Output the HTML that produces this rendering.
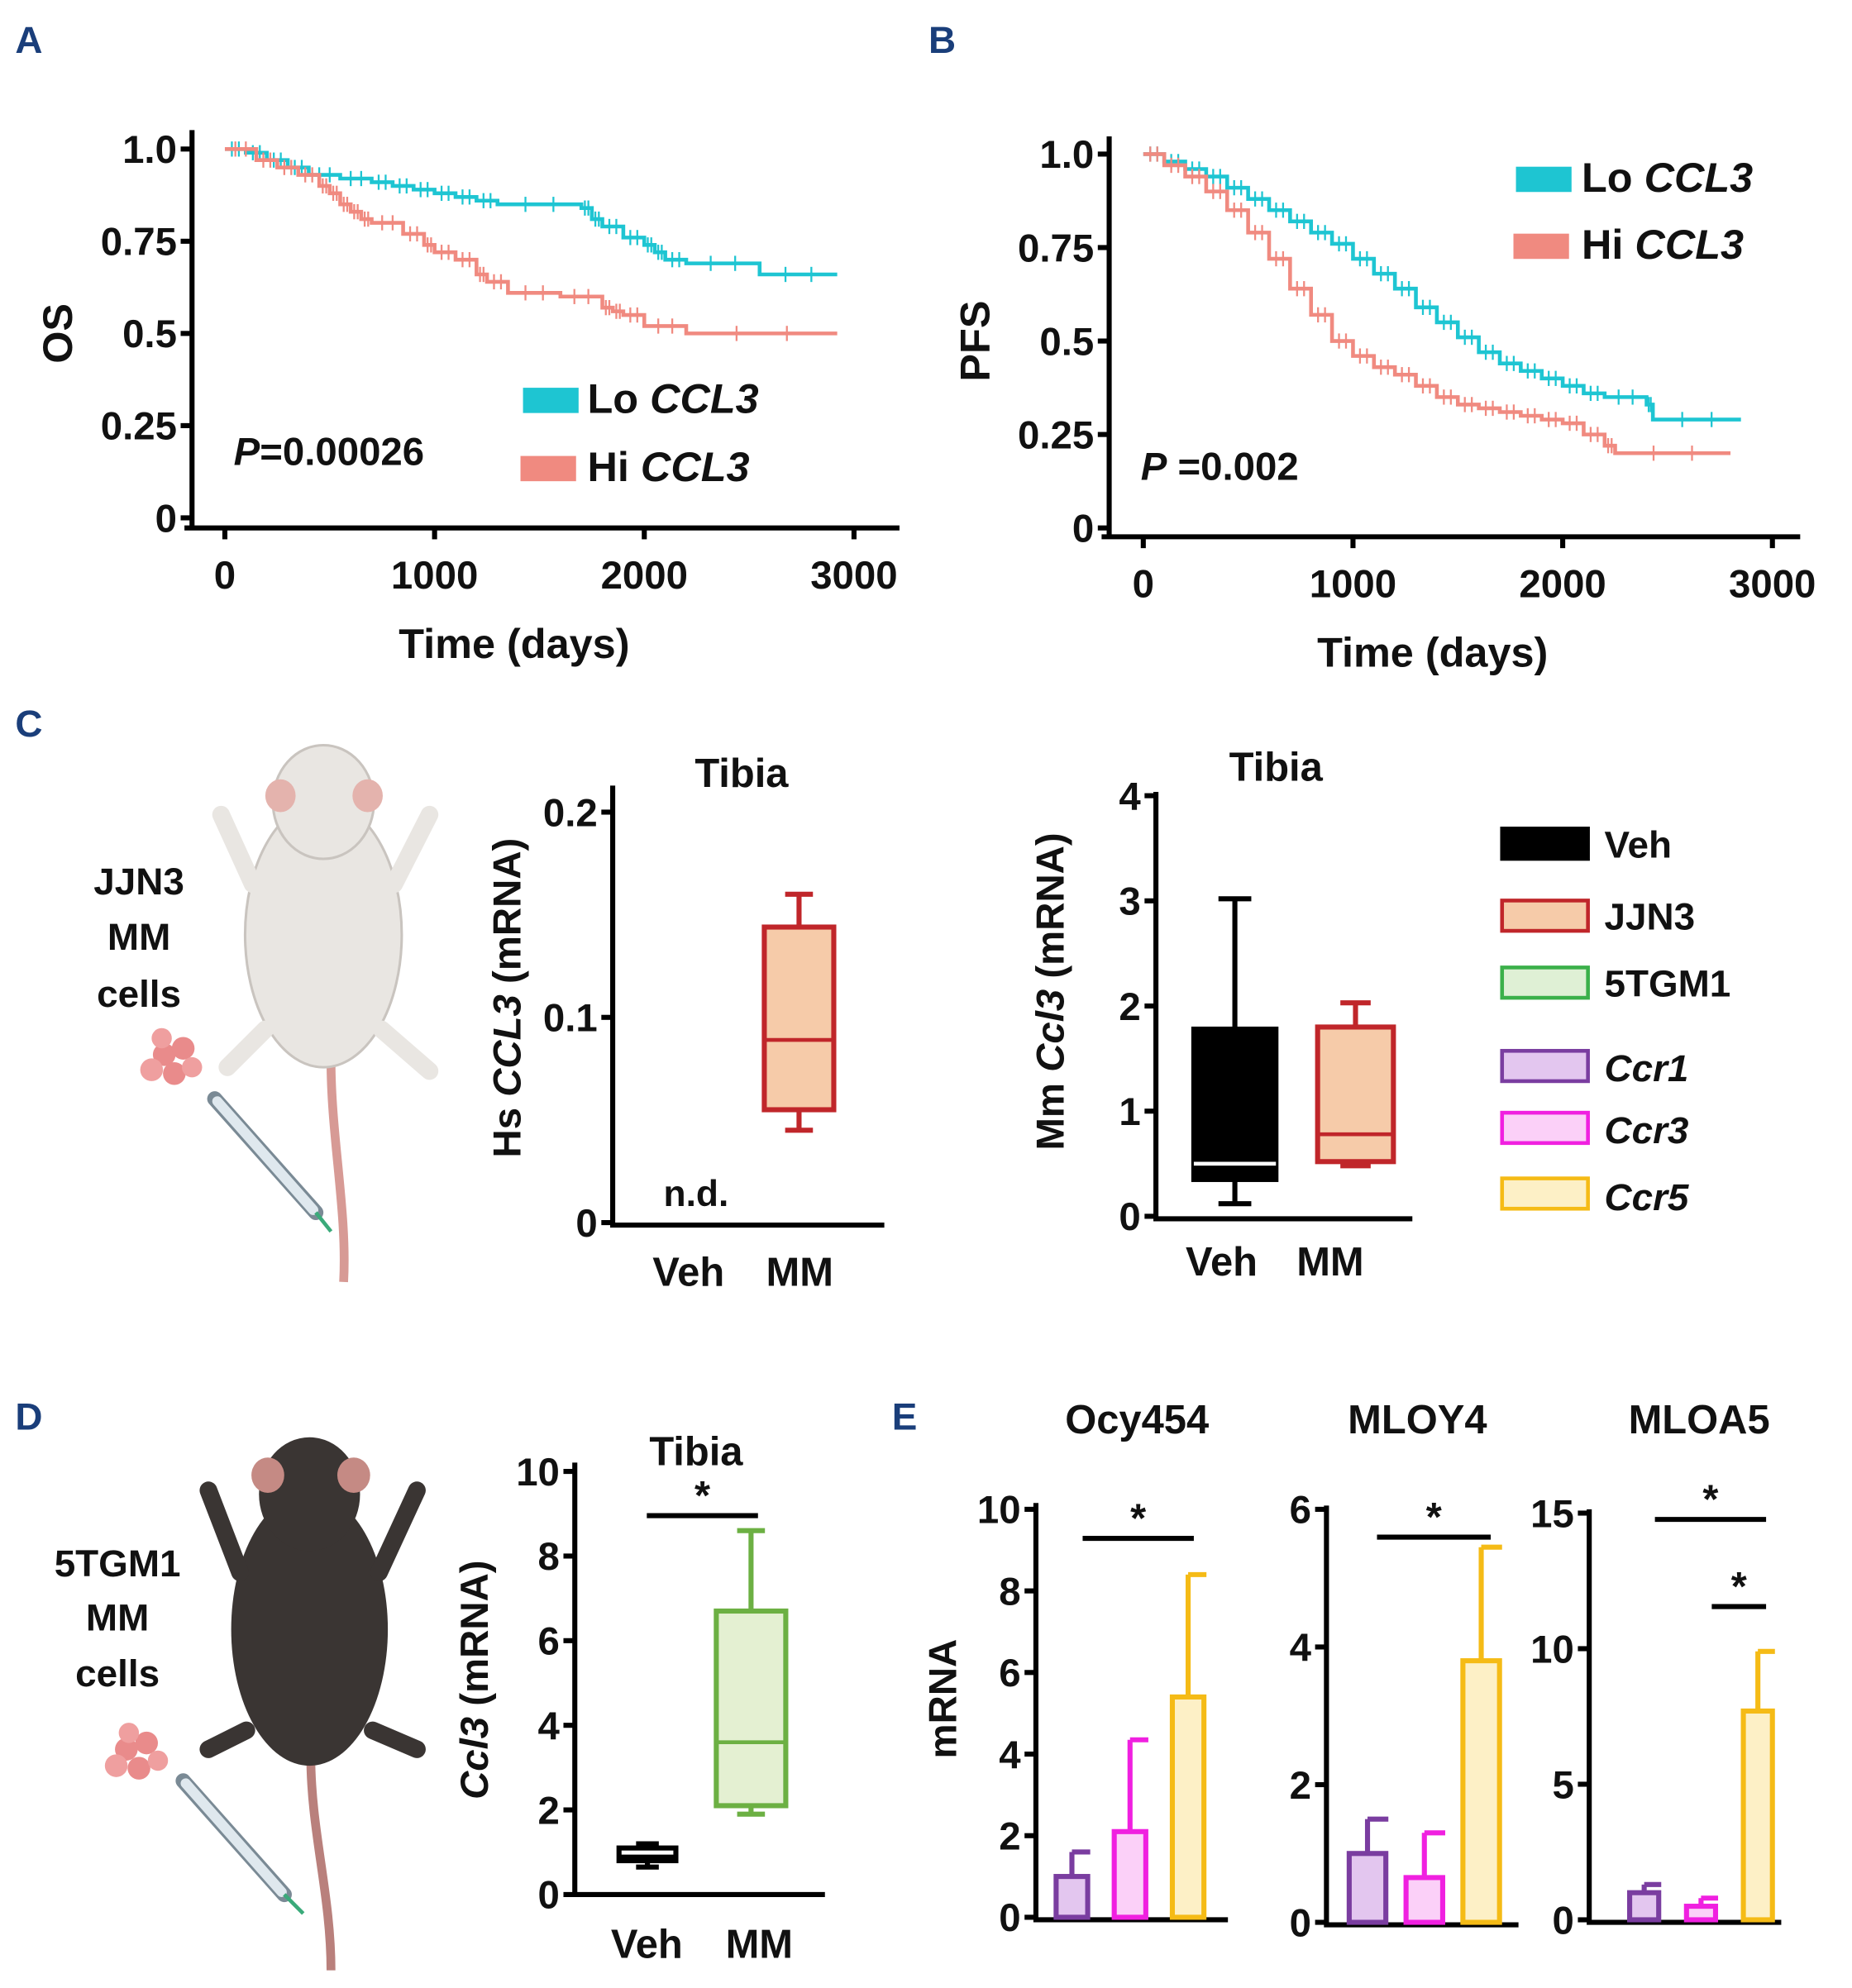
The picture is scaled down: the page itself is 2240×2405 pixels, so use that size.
<!DOCTYPE html>
<html><head><meta charset="utf-8">
<style>
html,body{margin:0;padding:0;background:#fff;}
svg{display:block;}
text{font-family:"Liberation Sans",Arial,sans-serif;font-weight:bold;fill:#111;}
</style></head>
<body>
<svg id="fig" width="2240" height="2405" viewBox="0 0 1466 1574" xmlns="http://www.w3.org/2000/svg">
<g id="letters" fill="#1a3e7a">
<text x="12" y="42" font-size="30" style="fill:#1a3e7a">A</text>
<text x="735" y="42" font-size="30" style="fill:#1a3e7a">B</text>
<text x="12" y="583" font-size="30" style="fill:#1a3e7a">C</text>
<text x="12" y="1132" font-size="30" style="fill:#1a3e7a">D</text>
<text x="706" y="1132" font-size="30" style="fill:#1a3e7a">E</text>
</g>

<g>
<path d="M262 840 C262 900 275 960 272 1015" stroke="#d79a95" stroke-width="7" fill="none"/>
<ellipse cx="256" cy="740" rx="62" ry="105" fill="#e9e6e2" stroke="#c9c4bf" stroke-width="2"/>
<ellipse cx="256" cy="635" rx="40" ry="45" fill="#e9e6e2" stroke="#c9c4bf" stroke-width="2"/>
<ellipse cx="222" cy="630" rx="12" ry="13" fill="#e4b3ad"/>
<ellipse cx="291" cy="630" rx="12" ry="13" fill="#e4b3ad"/>
<path d="M200 700 L175 645 M312 700 L340 645 M210 815 L180 845 M302 815 L340 848" stroke="#e9e6e2" stroke-width="14" stroke-linecap="round"/>
<circle cx="130" cy="835" r="9" fill="#e98b8b"/><circle cx="145" cy="830" r="9" fill="#e98b8b"/><circle cx="120" cy="847" r="9" fill="#ef9f9f"/><circle cx="138" cy="850" r="9" fill="#e98b8b"/><circle cx="152" cy="845" r="8" fill="#ef9f9f"/><circle cx="128" cy="822" r="8" fill="#ef9f9f"/>
<path d="M170 870 L250 960" stroke="#7a8a95" stroke-width="12" stroke-linecap="round"/>
<path d="M172 872 L248 958" stroke="#dfe8ee" stroke-width="8" stroke-linecap="round"/>
<path d="M250 960 L262 975" stroke="#3aaa7a" stroke-width="3"/>
<text x="110" y="708" font-size="30" text-anchor="middle">JJN3</text>
<text x="110" y="752" font-size="30" text-anchor="middle">MM</text>
<text x="110" y="797" font-size="30" text-anchor="middle">cells</text>
</g>

<g>
<path d="M246 1390 C246 1450 262 1500 262 1560" stroke="#b9807c" stroke-width="7" fill="none"/>
<ellipse cx="245" cy="1290" rx="62" ry="108" fill="#3a3533"/>
<ellipse cx="245" cy="1183" rx="40" ry="45" fill="#3a3533"/>
<ellipse cx="212" cy="1168" rx="13" ry="14" fill="#c58a84"/>
<ellipse cx="280" cy="1168" rx="13" ry="14" fill="#c58a84"/>
<path d="M190 1245 L165 1180 M300 1245 L330 1180 M195 1370 L165 1385 M295 1370 L330 1385" stroke="#3a3533" stroke-width="14" stroke-linecap="round"/>
<circle cx="100" cy="1385" r="9" fill="#e98b8b"/><circle cx="116" cy="1380" r="9" fill="#e98b8b"/><circle cx="92" cy="1398" r="9" fill="#ef9f9f"/><circle cx="110" cy="1400" r="9" fill="#e98b8b"/><circle cx="125" cy="1394" r="8" fill="#ef9f9f"/><circle cx="102" cy="1372" r="8" fill="#ef9f9f"/>
<path d="M145 1410 L225 1500" stroke="#7a8a95" stroke-width="12" stroke-linecap="round"/>
<path d="M147 1412 L223 1498" stroke="#dfe8ee" stroke-width="8" stroke-linecap="round"/>
<path d="M225 1500 L240 1515" stroke="#3aaa7a" stroke-width="3"/>
<text x="93" y="1248" font-size="30" text-anchor="middle">5TGM1</text>
<text x="93" y="1291" font-size="30" text-anchor="middle">MM</text>
<text x="93" y="1335" font-size="30" text-anchor="middle">cells</text>
</g>

<g>
<rect x="1189" y="656" width="68" height="24" fill="#000" stroke="#000" stroke-width="3"/>
<text x="1270" y="679" font-size="30">Veh</text>
<rect x="1189" y="713" width="68" height="24" fill="#f6cba9" stroke="#c0262a" stroke-width="3"/>
<text x="1270" y="736" font-size="30">JJN3</text>
<rect x="1189" y="766" width="68" height="24" fill="#dff0d5" stroke="#3bb04a" stroke-width="3"/>
<text x="1270" y="789" font-size="30">5TGM1</text>
<rect x="1189" y="832" width="68" height="24" fill="#e3c6ef" stroke="#7a3da0" stroke-width="3"/>
<text x="1270" y="856" font-size="30" font-style="italic">Ccr1</text>
<rect x="1189" y="881" width="68" height="24" fill="#fbd0f8" stroke="#f020e0" stroke-width="3"/>
<text x="1270" y="905" font-size="30" font-style="italic">Ccr3</text>
<rect x="1189" y="933" width="68" height="24" fill="#fdf0c6" stroke="#f5bb16" stroke-width="3"/>
<text x="1270" y="958" font-size="30" font-style="italic">Ccr5</text>
</g>
<g id="charts"></g>
</svg>
<script>
// ---- Panel A data (OS) ----
const osLoTime = [0,100,200,300,400,550,700,800,900,1000,1100,1200,1300,1700,1750,1800,1900,2000,2050,2100,2200,2550,2920];
const osLoSurv = [1,0.99,0.97,0.95,0.93,0.92,0.91,0.90,0.89,0.88,0.87,0.86,0.85,0.84,0.81,0.79,0.76,0.74,0.72,0.70,0.69,0.66,0.66];
const osHiTime = [0,150,250,350,450,500,550,600,650,700,850,950,1000,1100,1200,1250,1350,1600,1800,1850,1900,2000,2200,2920];
const osHiSurv = [1,0.97,0.95,0.93,0.90,0.88,0.85,0.83,0.81,0.80,0.77,0.74,0.72,0.70,0.66,0.64,0.61,0.60,0.57,0.56,0.55,0.52,0.50,0.50];
// ---- Panel B data (PFS) ----
const pfsLoTime = [0,100,200,300,400,500,600,700,800,900,1000,1100,1200,1300,1400,1500,1600,1700,1800,1900,2000,2100,2200,2400,2430,2850];
const pfsLoSurv = [1,0.98,0.96,0.94,0.91,0.88,0.85,0.82,0.79,0.76,0.72,0.68,0.64,0.59,0.55,0.51,0.47,0.44,0.42,0.40,0.38,0.36,0.35,0.33,0.29,0.29];
const pfsHiTime = [0,100,200,300,400,500,600,700,800,900,1000,1100,1200,1300,1400,1500,1600,1700,1800,1900,2000,2100,2200,2250,2800];
const pfsHiSurv = [1,0.97,0.94,0.90,0.85,0.79,0.72,0.64,0.57,0.50,0.46,0.43,0.41,0.38,0.35,0.33,0.32,0.31,0.30,0.29,0.28,0.25,0.22,0.20,0.20];
const kmXTicks = [0,1000,2000,3000];
const kmYTicks = [0,0.25,0.5,0.75,1.0];
const kmYLabels = ["0","0.25","0.5","0.75","1.0"];
// ---- Panel C box data [min,q1,median,q3,max] ----
const hsCategories = ["Veh","MM"];
const hsMM = [0.045,0.055,0.089,0.144,0.16];
const hsTicks = [0,0.1,0.2];
const mmCategories = ["Veh","MM"];
const mmVeh = [0.12,0.35,0.5,1.78,3.02];
const mmMM = [0.48,0.52,0.78,1.8,2.03];
const mmTicks = [0,1,2,3,4];
// ---- Panel D ----
const dVeh = [0.65,0.8,0.9,1.1,1.2];
const dMM = [1.9,2.1,3.6,6.7,8.6];
const dTicks = [0,2,4,6,8,10];
// ---- Panel E bars ----
const eGenes = ["Ccr1","Ccr3","Ccr5"];
const ocyMean = [1.0,2.1,5.4];
const ocyErr = [1.6,4.35,8.4];
const ocyTicks = [0,2,4,6,8,10];
const mloyMean = [1.0,0.65,3.8];
const mloyErr = [1.5,1.3,5.45];
const mloyTicks = [0,2,4,6];
const mloaMean = [1.0,0.5,7.7];
const mloaErr = [1.3,0.8,9.9];
const mloaTicks = [0,5,10,15];

const NS="http://www.w3.org/2000/svg";
const root=document.getElementById('charts');
function el(tag,attrs,parent,txt){const e=document.createElementNS(NS,tag);for(const k in attrs)e.setAttribute(k,attrs[k]);if(txt!==undefined)e.textContent=txt;(parent||root).appendChild(e);return e;}
function lin(d0,d1,r0,r1){return v=>r0+(v-d0)/(d1-d0)*(r1-r0);}

function kmPanel(o){
  const g=el('g',{});
  
  
  const x=lin(0,1000,o.x0,o.x1000), y=lin(0,1,o.y0,o.y1);
  el('line',{x1:o.ax,y1:o.ytop,x2:o.ax,y2:o.axy,stroke:'#000','stroke-width':4},g);
  el('line',{x1:o.ax-6,y1:o.axy,x2:o.xend,y2:o.axy,stroke:'#000','stroke-width':4},g);
  kmYTicks.forEach((t,i)=>{el('line',{x1:o.ax-9,y1:y(t),x2:o.ax,y2:y(t),stroke:'#000','stroke-width':4},g);
    const tl=el('text',{x:o.ax-12,y:y(t)+11,'font-size':31,'text-anchor':'end'},g,kmYLabels[i]);
    });
  kmXTicks.forEach(t=>{el('line',{x1:x(t),y1:o.axy,x2:x(t),y2:o.axy+9,stroke:'#000','stroke-width':4},g);
    const tl=el('text',{x:x(t),y:o.axy+48,'font-size':31,'text-anchor':'middle'},g,String(t));
    });
  const xt=el('text',{x:(x(0)+x(3000))/2-20,y:o.axy+103,'font-size':33,'text-anchor':'middle'},g,'Time (days)');
  
  const yt=el('text',{transform:`translate(${o.ax-95},${y(0.5)}) rotate(-90)`,'font-size':33,'text-anchor':'middle'},g,o.ylab);
  
  o.series.forEach(s=>{
    let d=`M${x(s.t[0])},${y(s.s[0])}`;
    for(let i=1;i<s.t.length;i++){d+=` H${x(s.t[i])} V${y(s.s[i])}`;}
    const p=el('path',{d:d,fill:'none',stroke:s.c,'stroke-width':3},g);
    
    for(let i=0;i<s.t.length-1;i++){const n=2;for(let k=1;k<=n;k++){const tt=s.t[i]+(s.t[i+1]-s.t[i])*k/(n+1);
      el('line',{x1:x(tt),y1:y(s.s[i])-6,x2:x(tt),y2:y(s.s[i])+6,stroke:s.c,'stroke-width':1.5},g);}}
  });
  return g;
}
const gA=kmPanel({name:'os-km-chart',ax:152,axy:418,ytop:103,xend:712,x0:178,x1000:344,y0:410,y1:118,ylab:'OS',
  series:[{t:osLoTime,s:osLoSurv,c:'#1ec5d2',name:'lo-ccl3-curve'},{t:osHiTime,s:osHiSurv,c:'#f08a80',name:'hi-ccl3-curve'}]});
el('rect',{x:414,y:307,width:44,height:20,fill:'#1ec5d2'},gA);
el('text',{x:465,y:327,'font-size':33},gA,'').innerHTML='Lo <tspan font-style="italic">CCL3</tspan>';
el('rect',{x:412,y:361,width:44,height:20,fill:'#f08a80'},gA);
el('text',{x:465,y:381,'font-size':33},gA,'').innerHTML='Hi <tspan font-style="italic">CCL3</tspan>';
el('text',{x:185,y:368,'font-size':31},gA,'').innerHTML='<tspan font-style="italic">P</tspan>=0.00026';

const gB=kmPanel({name:'pfs-km-chart',ax:878,axy:425,ytop:108,xend:1425,x0:905,x1000:1071,y0:418,y1:122,ylab:'PFS',
  series:[{t:pfsLoTime,s:pfsLoSurv,c:'#1ec5d2',name:'lo-ccl3-curve'},{t:pfsHiTime,s:pfsHiSurv,c:'#f08a80',name:'hi-ccl3-curve'}]});
el('rect',{x:1200,y:132,width:44,height:20,fill:'#1ec5d2'},gB);
el('text',{x:1252,y:152,'font-size':33},gB,'').innerHTML='Lo <tspan font-style="italic">CCL3</tspan>';
el('rect',{x:1198,y:185,width:44,height:20,fill:'#f08a80'},gB);
el('text',{x:1252,y:205,'font-size':33},gB,'').innerHTML='Hi <tspan font-style="italic">CCL3</tspan>';
el('text',{x:903,y:380,'font-size':31},gB,'').innerHTML='<tspan font-style="italic">P</tspan> =0.002';

function axesV(g,o){
  const y=lin(o.d0,o.d1,o.y0,o.y1);
  el('line',{x1:o.ax,y1:o.ytop,x2:o.ax,y2:o.axy,stroke:'#000','stroke-width':4},g);
  el('line',{x1:o.ax-2,y1:o.axy,x2:o.xend,y2:o.axy,stroke:'#000','stroke-width':4},g);
  o.ticks.forEach(t=>{el('line',{x1:o.ax-9,y1:y(t),x2:o.ax,y2:y(t),stroke:'#000','stroke-width':4},g);
    const tl=el('text',{x:o.ax-12,y:y(t)+11,'font-size':31,'text-anchor':'end'},g,String(t));
    });
  return y;
}
function box(g,y,x1,x2,v,fill,stroke,medColor,name){
  const b=el('g',{},g);
  
  const cx=(x1+x2)/2, w=(x2-x1)*0.4;
  el('line',{x1:cx,y1:y(v[0]),x2:cx,y2:y(v[4]),stroke:stroke,'stroke-width':4},b);
  el('line',{x1:cx-w/2,y1:y(v[0]),x2:cx+w/2,y2:y(v[0]),stroke:stroke,'stroke-width':4},b);
  el('line',{x1:cx-w/2,y1:y(v[4]),x2:cx+w/2,y2:y(v[4]),stroke:stroke,'stroke-width':4},b);
  el('rect',{x:x1,y:y(v[3]),width:x2-x1,height:y(v[1])-y(v[3]),fill:fill,stroke:stroke,'stroke-width':4},b);
  el('line',{x1:x1,y1:y(v[2]),x2:x2,y2:y(v[2]),stroke:medColor,'stroke-width':3},b);
}
const gC1=el('g',{});
const yC1=axesV(gC1,{ax:485,axy:970,ytop:622,xend:700,d0:0,d1:0.2,y0:968,y1:643,ticks:hsTicks});
box(gC1,yC1,605,660,hsMM,'#f6cba9','#c0262a','#c0262a','box-mm');
el('text',{x:551,y:955,'font-size':29,'text-anchor':'middle'},gC1,'n.d.');
el('text',{x:545,y:1018,'font-size':32,'text-anchor':'middle'},gC1,hsCategories[0]);
el('text',{x:633,y:1018,'font-size':32,'text-anchor':'middle'},gC1,hsCategories[1]);
el('text',{x:587,y:623,'font-size':32,'text-anchor':'middle'},gC1,'Tibia');
el('text',{transform:'translate(412,790) rotate(-90)','font-size':31,'text-anchor':'middle'},gC1,'').innerHTML='Hs <tspan font-style="italic">CCL3</tspan> (mRNA)';
const gC2=el('g',{});
const yC2=axesV(gC2,{ax:915,axy:965,ytop:627,xend:1118,d0:0,d1:4,y0:963,y1:630,ticks:mmTicks});
box(gC2,yC2,945,1010,mmVeh,'#000','#000','#fff','box-veh');
box(gC2,yC2,1043,1103,mmMM,'#f6cba9','#c0262a','#c0262a','box-mm');
el('text',{x:967,y:1010,'font-size':32,'text-anchor':'middle'},gC2,mmCategories[0]);
el('text',{x:1053,y:1010,'font-size':32,'text-anchor':'middle'},gC2,mmCategories[1]);
el('text',{x:1010,y:618,'font-size':32,'text-anchor':'middle'},gC2,'Tibia');
el('text',{transform:'translate(842,785) rotate(-90)','font-size':31,'text-anchor':'middle'},gC2,'').innerHTML='Mm <tspan font-style="italic">Ccl3</tspan> (mRNA)';
const gD=el('g',{});
const yD=axesV(gD,{ax:455,axy:1500,ytop:1158,xend:653,d0:0,d1:10,y0:1500,y1:1165,ticks:dTicks});
box(gD,yD,490,535,dVeh,'#fff','#000','#000','box-veh');
box(gD,yD,567,622,dMM,'#e4f0d2','#6cb043','#6cb043','box-mm');
el('line',{x1:512,y1:1200,x2:600,y2:1200,stroke:'#000','stroke-width':4},gD);
el('text',{x:556,y:1195,'font-size':32,'text-anchor':'middle'},gD,'*');
el('text',{x:512,y:1550,'font-size':32,'text-anchor':'middle'},gD,'Veh');
el('text',{x:601,y:1550,'font-size':32,'text-anchor':'middle'},gD,'MM');
el('text',{x:551,y:1160,'font-size':32,'text-anchor':'middle'},gD,'Tibia');
el('text',{transform:'translate(386,1330) rotate(-90)','font-size':31,'text-anchor':'middle'},gD,'').innerHTML='<tspan font-style="italic">Ccl3</tspan> (mRNA)';
const barFill=['#e3c6ef','#fbd0f8','#fdf0c6'], barStroke=['#7a3da0','#f020e0','#f5bb16'];
function barPanel(o){
  const g=el('g',{});
  const y=axesV(g,{ax:o.ax,axy:o.axy,ytop:o.ytop,xend:o.ax+152,d0:0,d1:o.max,y0:o.axy-2,y1:o.ytopTick,ticks:o.ticks});
  o.mean.forEach((m,i)=>{const x1=o.ax+o.off+i*o.step;
    el('line',{x1:x1+o.w/2,y1:y(m),x2:x1+o.w/2,y2:y(o.err[i]),stroke:barStroke[i],'stroke-width':4},g);
    el('line',{x1:x1+o.w/2,y1:y(o.err[i]),x2:x1+o.w+2,y2:y(o.err[i]),stroke:barStroke[i],'stroke-width':4},g);
    const r=el('rect',{x:x1,y:y(m),width:o.w,height:o.axy-2-y(m),fill:barFill[i],stroke:barStroke[i],'stroke-width':4},g);
    });
  o.sig.forEach(s=>{el('line',{x1:s[0],y1:s[2],x2:s[1],y2:s[2],stroke:'#000','stroke-width':4},g);
    el('text',{x:(s[0]+s[1])/2,y:s[2]-5,'font-size':32,'text-anchor':'middle'},g,'*');});
  const t=el('text',{x:o.tx,y:1135,'font-size':32,'text-anchor':'middle'},g,o.title);
  
}
barPanel({name:'ocy454-bar-chart',ax:820,axy:1520,ytop:1190,ytopTick:1195,max:10,ticks:ocyTicks,mean:ocyMean,err:ocyErr,off:16,step:46,w:25,sig:[[857,945,1218]],tx:900,title:'Ocy454'});
barPanel({name:'mloy4-bar-chart',ax:1050,axy:1524,ytop:1192,ytopTick:1195,max:6,ticks:mloyTicks,mean:mloyMean,err:mloyErr,off:18,step:45,w:29,sig:[[1090,1180,1217]],tx:1122,title:'MLOY4'});
barPanel({name:'mloa5-bar-chart',ax:1258,axy:1522,ytop:1195,ytopTick:1198,max:15,ticks:mloaTicks,mean:mloaMean,err:mloaErr,off:32,step:45,w:23,sig:[[1310,1398,1203],[1355,1398,1272]],tx:1345,title:'MLOA5'});
const ey=el('text',{transform:'translate(757,1345) rotate(-90)','font-size':31,'text-anchor':'middle'},root,'mRNA');

</script>
</body></html>
